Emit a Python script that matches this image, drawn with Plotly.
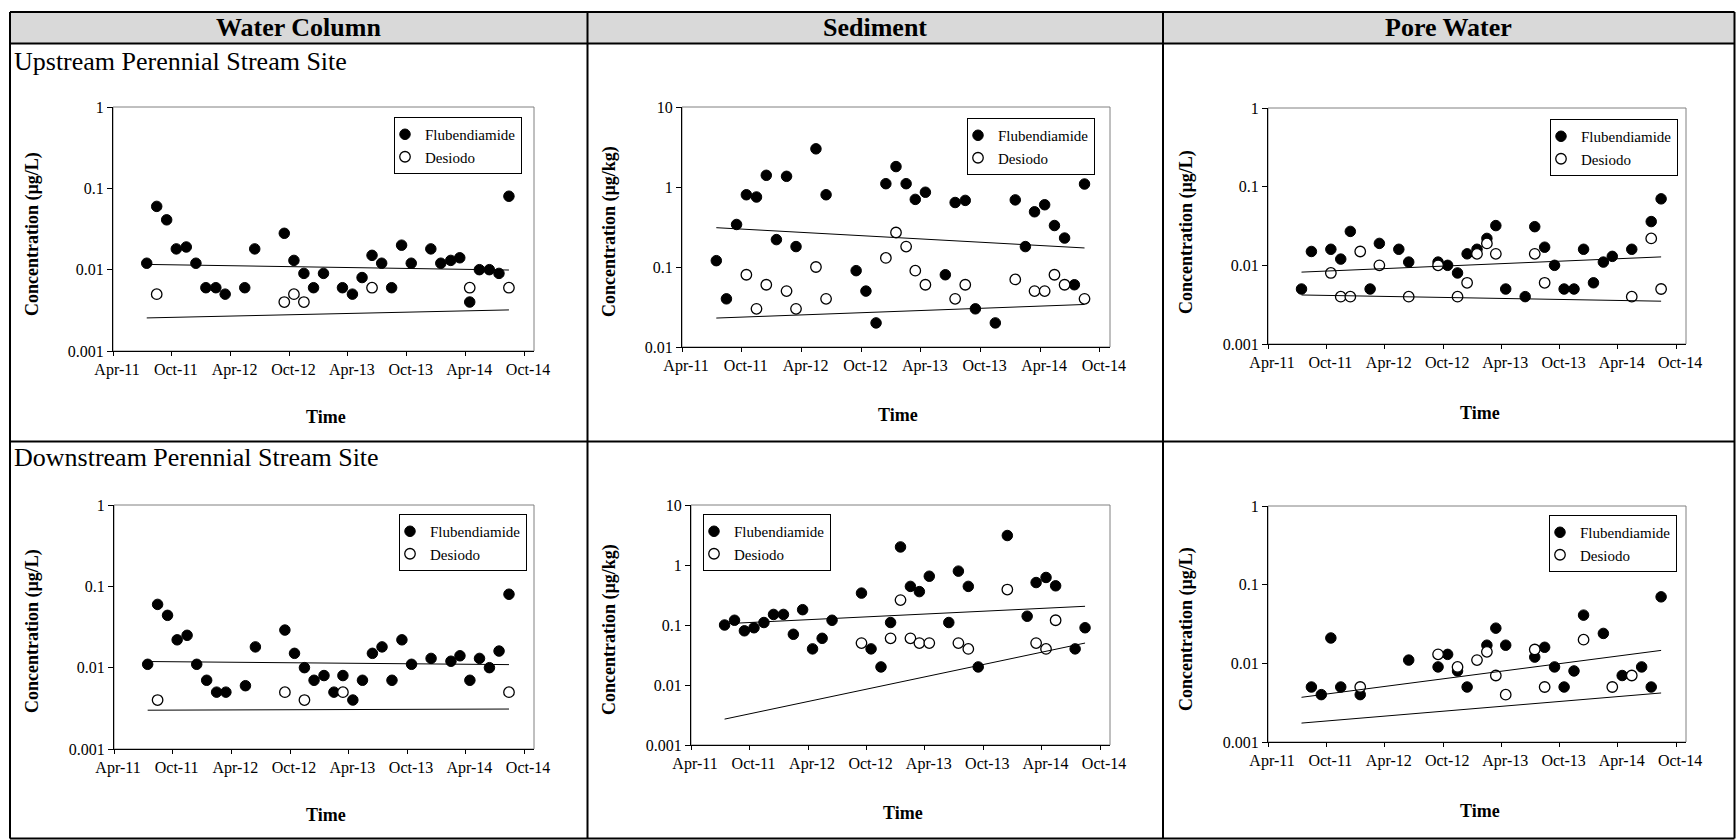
import plotly.graph_objects as go

# ---------------- data ----------------
tick_dates = ["2011-04-01", "2011-10-01", "2012-04-01", "2012-10-01",
              "2013-04-01", "2013-10-01", "2014-04-01", "2014-10-01"]
tick_text = ["Apr-11", "Oct-11", "Apr-12", "Oct-12", "Apr-13", "Oct-13", "Apr-14", "Oct-14"]

# Upstream - water column
uwc_flub_months = ["2011-07", "2011-08", "2011-09", "2011-10", "2011-11", "2011-12", "2012-01", "2012-02",
                   "2012-03", "2012-05", "2012-06", "2012-09", "2012-10", "2012-11", "2012-12", "2013-01",
                   "2013-03", "2013-04", "2013-05", "2013-06", "2013-07", "2013-08", "2013-09", "2013-10",
                   "2013-12", "2014-01", "2014-02", "2014-03", "2014-04", "2014-05", "2014-06", "2014-07",
                   "2014-08"]
uwc_flub_vals = [0.012, 0.060, 0.041, 0.018, 0.019, 0.012, 0.006, 0.006, 0.005, 0.006, 0.018, 0.028, 0.013,
                 0.009, 0.006, 0.009, 0.006, 0.005, 0.008, 0.015, 0.012, 0.006, 0.020, 0.012, 0.018, 0.012,
                 0.013, 0.014, 0.004, 0.010, 0.010, 0.009, 0.080]
uwc_desi_months = ["2011-08", "2012-09", "2012-10", "2012-11", "2013-06", "2014-04", "2014-08"]
uwc_desi_vals = [0.005, 0.004, 0.005, 0.004, 0.006, 0.006, 0.006]
uwc_trend_months = ["2011-07", "2014-08"]
uwc_flub_trend = [0.0116, 0.0099]
uwc_desi_trend = [0.00255, 0.0032]

# Upstream - sediment
usd_flub_months = ["2011-07", "2011-08", "2011-09", "2011-10", "2011-11", "2011-12", "2012-01", "2012-02",
                   "2012-03", "2012-05", "2012-06", "2012-09", "2012-10", "2012-11", "2012-12", "2013-01",
                   "2013-02", "2013-03", "2013-04", "2013-06", "2013-07", "2013-08", "2013-09", "2013-11",
                   "2014-01", "2014-02", "2014-03", "2014-04", "2014-05", "2014-06", "2014-07", "2014-08"]
usd_flub_vals = [0.12, 0.040, 0.34, 0.80, 0.75, 1.40, 0.22, 1.36, 0.18, 3.0, 0.80, 0.09, 0.05, 0.020, 1.10,
                 1.8, 1.10, 0.70, 0.86, 0.08, 0.64, 0.68, 0.030, 0.020, 0.69, 0.18, 0.49, 0.60, 0.33, 0.23,
                 0.060, 1.09]
usd_desi_months = ["2011-10", "2011-11", "2011-12", "2012-02", "2012-03", "2012-05", "2012-06", "2012-12",
                   "2013-01", "2013-02", "2013-03", "2013-04", "2013-07", "2013-08", "2014-01", "2014-03",
                   "2014-04", "2014-05", "2014-06", "2014-08"]
usd_desi_vals = [0.08, 0.030, 0.060, 0.050, 0.030, 0.10, 0.040, 0.13, 0.27, 0.18, 0.09, 0.06, 0.04, 0.06,
                 0.07, 0.05, 0.05, 0.08, 0.06, 0.04]
usd_trend_months = ["2011-07", "2014-08"]
usd_flub_trend = [0.31, 0.173]
usd_desi_trend = [0.023, 0.034]

# Upstream - pore water
upw_flub_months = ["2011-07", "2011-08", "2011-10", "2011-11", "2011-12", "2012-02", "2012-03", "2012-05",
                   "2012-06", "2012-09", "2012-10", "2012-11", "2012-12", "2013-01", "2013-02", "2013-03",
                   "2013-04", "2013-06", "2013-07", "2013-08", "2013-09", "2013-10", "2013-11", "2013-12",
                   "2014-01", "2014-02", "2014-03", "2014-05", "2014-07", "2014-08"]
upw_flub_vals = [0.005, 0.015, 0.016, 0.012, 0.027, 0.005, 0.019, 0.016, 0.011, 0.011, 0.010, 0.008, 0.014,
                 0.016, 0.022, 0.032, 0.005, 0.004, 0.031, 0.017, 0.010, 0.005, 0.005, 0.016, 0.006, 0.011,
                 0.013, 0.016, 0.036, 0.070]
upw_desi_months = ["2011-10", "2011-11", "2011-12", "2012-01", "2012-03", "2012-06", "2012-09", "2012-11",
                   "2012-12", "2013-01", "2013-02", "2013-03", "2013-07", "2013-08", "2014-05", "2014-07",
                   "2014-08"]
upw_desi_vals = [0.008, 0.004, 0.004, 0.015, 0.010, 0.004, 0.010, 0.004, 0.006, 0.014, 0.019, 0.014, 0.014,
                 0.006, 0.004, 0.022, 0.005]
upw_trend_months = ["2011-07", "2014-08"]
upw_flub_trend = [0.0082, 0.0128]
upw_desi_trend = [0.0042, 0.0035]

# Downstream - water column
dwc_flub_months = ["2011-07", "2011-08", "2011-09", "2011-10", "2011-11", "2011-12", "2012-01", "2012-02",
                   "2012-03", "2012-05", "2012-06", "2012-09", "2012-10", "2012-11", "2012-12", "2013-01",
                   "2013-02", "2013-03", "2013-04", "2013-05", "2013-06", "2013-07", "2013-08", "2013-09",
                   "2013-10", "2013-12", "2014-02", "2014-03", "2014-04", "2014-05", "2014-06", "2014-07",
                   "2014-08"]
dwc_flub_vals = [0.011, 0.060, 0.044, 0.022, 0.025, 0.011, 0.007, 0.005, 0.005, 0.006, 0.018, 0.029, 0.015,
                 0.010, 0.007, 0.008, 0.005, 0.008, 0.004, 0.007, 0.015, 0.018, 0.007, 0.022, 0.011, 0.013,
                 0.012, 0.014, 0.007, 0.013, 0.010, 0.016, 0.080]
dwc_desi_months = ["2011-08", "2012-09", "2012-11", "2013-03", "2014-08"]
dwc_desi_vals = [0.004, 0.005, 0.004, 0.005, 0.005]
dwc_trend_months = ["2011-07", "2014-08"]
dwc_flub_trend = [0.0119, 0.0109]
dwc_desi_trend = [0.0030, 0.0031]

# Downstream - sediment
dsd_flub_months = ["2011-07", "2011-08", "2011-09", "2011-10", "2011-11", "2011-12", "2012-01", "2012-02",
                   "2012-03", "2012-04", "2012-05", "2012-06", "2012-09", "2012-10", "2012-11", "2012-12",
                   "2013-01", "2013-02", "2013-03", "2013-04", "2013-06", "2013-07", "2013-08", "2013-09",
                   "2013-12", "2014-02", "2014-03", "2014-04", "2014-05", "2014-07", "2014-08"]
dsd_flub_vals = [0.10, 0.12, 0.08, 0.09, 0.11, 0.15, 0.15, 0.07, 0.18, 0.04, 0.06, 0.12, 0.34, 0.04, 0.02,
                 0.11, 2.0, 0.44, 0.36, 0.65, 0.11, 0.79, 0.44, 0.02, 3.1, 0.14, 0.51, 0.62, 0.45, 0.04, 0.09]
dsd_desi_months = ["2012-09", "2012-12", "2013-01", "2013-02", "2013-03", "2013-04", "2013-07", "2013-08",
                   "2013-12", "2014-03", "2014-04", "2014-05"]
dsd_desi_vals = [0.05, 0.06, 0.26, 0.06, 0.05, 0.05, 0.05, 0.04, 0.39, 0.05, 0.04, 0.12]
dsd_trend_months = ["2011-07", "2014-08"]
dsd_flub_trend = [0.105, 0.205]
dsd_desi_trend = [0.0027, 0.050]

# Downstream - pore water
dpw_flub_months = ["2011-08", "2011-09", "2011-10", "2011-11", "2012-01", "2012-06", "2012-09", "2012-10",
                   "2012-11", "2012-12", "2013-02", "2013-03", "2013-04", "2013-07", "2013-08", "2013-09",
                   "2013-10", "2013-11", "2013-12", "2014-02", "2014-04", "2014-06", "2014-07", "2014-08"]
dpw_flub_vals = [0.005, 0.004, 0.021, 0.005, 0.004, 0.011, 0.009, 0.013, 0.008, 0.005, 0.017, 0.028, 0.017,
                 0.012, 0.016, 0.009, 0.005, 0.008, 0.041, 0.024, 0.007, 0.009, 0.005, 0.070]
dpw_desi_months = ["2012-01", "2012-09", "2012-11", "2013-01", "2013-02", "2013-03", "2013-04", "2013-07",
                   "2013-08", "2013-12", "2014-03", "2014-05"]
dpw_desi_vals = [0.005, 0.013, 0.009, 0.011, 0.014, 0.007, 0.004, 0.015, 0.005, 0.020, 0.005, 0.007]
dpw_trend_months = ["2011-07", "2014-08"]
dpw_flub_trend = [0.0037, 0.0146]
dpw_desi_trend = [0.00174, 0.0042]

column_titles = ["Water Column", "Sediment", "Pore Water"]
row_titles = ["Upstream Perennial Stream Site", "Downstream Perennial Stream Site"]
series_names = ["Flubendiamide", "Desiodo"]

# ---------------- layout helpers ----------------
W, H = 1736, 840
FONT = "Liberation Serif, Times New Roman, serif"


def px(x):
    return x / W


def py(y):
    return 1 - y / H


def mid(months):
    return [m + "-15" for m in months]


panels = [
    dict(fm=uwc_flub_months, fv=uwc_flub_vals, dm=uwc_desi_months, dv=uwc_desi_vals,
         tm=uwc_trend_months, ft=uwc_flub_trend, dt=uwc_desi_trend,
         box=(113, 534, 107, 351), yr=[-3, 0], ytitle="Concentration (µg/L)",
         yt=(32, 234), tt=(326, 417), leg=(522, 117, "right")),
    dict(fm=usd_flub_months, fv=usd_flub_vals, dm=usd_desi_months, dv=usd_desi_vals,
         tm=usd_trend_months, ft=usd_flub_trend, dt=usd_desi_trend,
         box=(682, 1110, 107, 347), yr=[-2, 1], ytitle="Concentration (µg/kg)",
         yt=(609, 232), tt=(898, 415), leg=(1095, 118, "right")),
    dict(fm=upw_flub_months, fv=upw_flub_vals, dm=upw_desi_months, dv=upw_desi_vals,
         tm=upw_trend_months, ft=upw_flub_trend, dt=upw_desi_trend,
         box=(1268, 1686, 108, 344), yr=[-3, 0], ytitle="Concentration (µg/L)",
         yt=(1186, 232), tt=(1480, 413), leg=(1678, 119, "right")),
    dict(fm=dwc_flub_months, fv=dwc_flub_vals, dm=dwc_desi_months, dv=dwc_desi_vals,
         tm=dwc_trend_months, ft=dwc_flub_trend, dt=dwc_desi_trend,
         box=(114, 534, 505, 749), yr=[-3, 0], ytitle="Concentration (µg/L)",
         yt=(32, 631), tt=(326, 815), leg=(527, 514, "right")),
    dict(fm=dsd_flub_months, fv=dsd_flub_vals, dm=dsd_desi_months, dv=dsd_desi_vals,
         tm=dsd_trend_months, ft=dsd_flub_trend, dt=dsd_desi_trend,
         box=(691, 1110, 505, 745), yr=[-3, 1], ytitle="Concentration (µg/kg)",
         yt=(609, 630), tt=(903, 813), leg=(703, 514, "left")),
    dict(fm=dpw_flub_months, fv=dpw_flub_vals, dm=dpw_desi_months, dv=dpw_desi_vals,
         tm=dpw_trend_months, ft=dpw_flub_trend, dt=dpw_desi_trend,
         box=(1268, 1686, 506, 742), yr=[-3, 0], ytitle="Concentration (µg/L)",
         yt=(1186, 629), tt=(1480, 811), leg=(1677, 515, "right")),
]

ytick_vals = [0.001, 0.01, 0.1, 1, 10]
ytick_text = ["0.001", "0.01", "0.1", "1", "10"]

fig = go.Figure()
layout = dict(width=W, height=H, margin=dict(l=0, r=0, t=0, b=0, autoexpand=False),
              paper_bgcolor="white", plot_bgcolor="white", showlegend=True,
              font=dict(family=FONT, color="black"))
annotations = []
shapes = []

for i, p in enumerate(panels):
    n = "" if i == 0 else str(i + 1)
    xa, ya = "x" + n, "y" + n
    leg = "legend" + n
    fig.add_trace(go.Scatter(x=mid(p["fm"]), y=p["fv"], mode="markers", name=series_names[0],
                             xaxis=xa, yaxis=ya, legend=leg,
                             marker=dict(symbol="circle", size=10.5, color="black",
                                         line=dict(color="black", width=1))))
    fig.add_trace(go.Scatter(x=mid(p["dm"]), y=p["dv"], mode="markers", name=series_names[1],
                             xaxis=xa, yaxis=ya, legend=leg,
                             marker=dict(symbol="circle", size=10.5, color="white",
                                         line=dict(color="black", width=1.3))))
    for tr in (p["ft"], p["dt"]):
        fig.add_trace(go.Scatter(x=mid(p["tm"]), y=tr, mode="lines", showlegend=False,
                                 xaxis=xa, yaxis=ya, hoverinfo="skip",
                                 line=dict(color="black", width=1)))
    l, r, t, b = p["box"]
    layout["xaxis" + n] = dict(domain=[px(l), px(r)], anchor=ya, type="date",
                               range=["2011-04-01", "2014-11-01"],
                               tickvals=tick_dates, ticktext=tick_text,
                               ticks="outside", ticklen=4, tickcolor="black", tickwidth=1,
                               showline=True, linecolor="black", linewidth=1,
                               showgrid=False, zeroline=False, ticklabelshift=4,
                               automargin=False,
                               tickfont=dict(family=FONT, size=16, color="black"))
    layout["yaxis" + n] = dict(domain=[py(b), py(t)], anchor=xa, type="log",
                               range=p["yr"], tickvals=ytick_vals, ticktext=ytick_text,
                               ticks="outside", ticklen=5, tickcolor="black", tickwidth=1,
                               showline=True, linecolor="black", linewidth=1,
                               showgrid=False, zeroline=False, automargin=False,
                               tickfont=dict(family=FONT, size=16, color="black"))
    lx, ly, anch = p["leg"]
    layout[leg] = dict(x=px(lx), y=py(ly), xanchor=anch, yanchor="top", xref="paper", yref="paper",
                       bgcolor="white", bordercolor="black", borderwidth=1,
                       font=dict(family=FONT, size=15, color="black"),
                       itemwidth=30, indentation=-10, tracegroupgap=0)
    shapes.append(dict(type="rect", xref=xa + " domain", yref=ya + " domain", x0=0, x1=1, y0=0, y1=1,
                       line=dict(color="#808080", width=1), layer="below"))
    annotations.append(dict(text="<b>%s</b>" % p["ytitle"], x=px(p["yt"][0]), y=py(p["yt"][1]),
                            xref="paper", yref="paper", textangle=-90, showarrow=False,
                            xanchor="center", yanchor="middle",
                            font=dict(family=FONT, size=18, color="black")))
    annotations.append(dict(text="<b>Time</b>", x=px(p["tt"][0]), y=py(p["tt"][1]),
                            xref="paper", yref="paper", showarrow=False,
                            xanchor="center", yanchor="middle",
                            font=dict(family=FONT, size=18, color="black")))

# ---------------- table frame ----------------
TL, TR, TT, TB = 10, 1734.5, 12, 838.5
HB = 43.5
C1, C2 = 587.5, 1163
RD = 441.5
shapes.insert(0, dict(type="rect", xref="paper", yref="paper", x0=px(TL), x1=px(TR), y0=py(HB), y1=py(TT),
                      fillcolor="#d9d9d9", line=dict(width=0), layer="below"))
line_style = dict(color="black", width=2)
for (x0, y0, x1, y1) in [(TL, TT, TR, TT), (TL, TB, TR, TB), (TL, TT, TL, TB), (TR, TT, TR, TB),
                         (TL, HB, TR, HB), (C1, TT, C1, TB), (C2, TT, C2, TB), (TL, RD, TR, RD)]:
    shapes.append(dict(type="line", xref="paper", yref="paper", x0=px(x0), x1=px(x1),
                       y0=py(y0), y1=py(y1), line=line_style, layer="above"))

col_centers = [(TL + C1) / 2, (C1 + C2) / 2, (C2 + TR) / 2]
for txt, cx in zip(column_titles, col_centers):
    annotations.append(dict(text="<b>%s</b>" % txt, x=px(cx), y=py((TT + HB) / 2), xref="paper",
                            yref="paper", showarrow=False, xanchor="center", yanchor="middle",
                            font=dict(family=FONT, size=26, color="black")))
for txt, cy in zip(row_titles, [61.5, 458]):
    annotations.append(dict(text=txt, x=px(11.5), y=py(cy), xref="paper", yref="paper",
                            showarrow=False, xanchor="left", yanchor="middle",
                            font=dict(family=FONT, size=26, color="black")))

layout["annotations"] = annotations
layout["shapes"] = shapes
fig.update_layout(**layout)

post = ("document.documentElement.style.margin='0';document.body.style.margin='0';"
        "document.body.style.padding='0';document.body.style.overflow='hidden';"
        "var gd=document.getElementById('{plot_id}');gd.style.position='fixed';"
        "gd.style.left='0px';gd.style.top='0px';")
fig.write_html("out.html", config={"displayModeBar": False}, post_script=post)
